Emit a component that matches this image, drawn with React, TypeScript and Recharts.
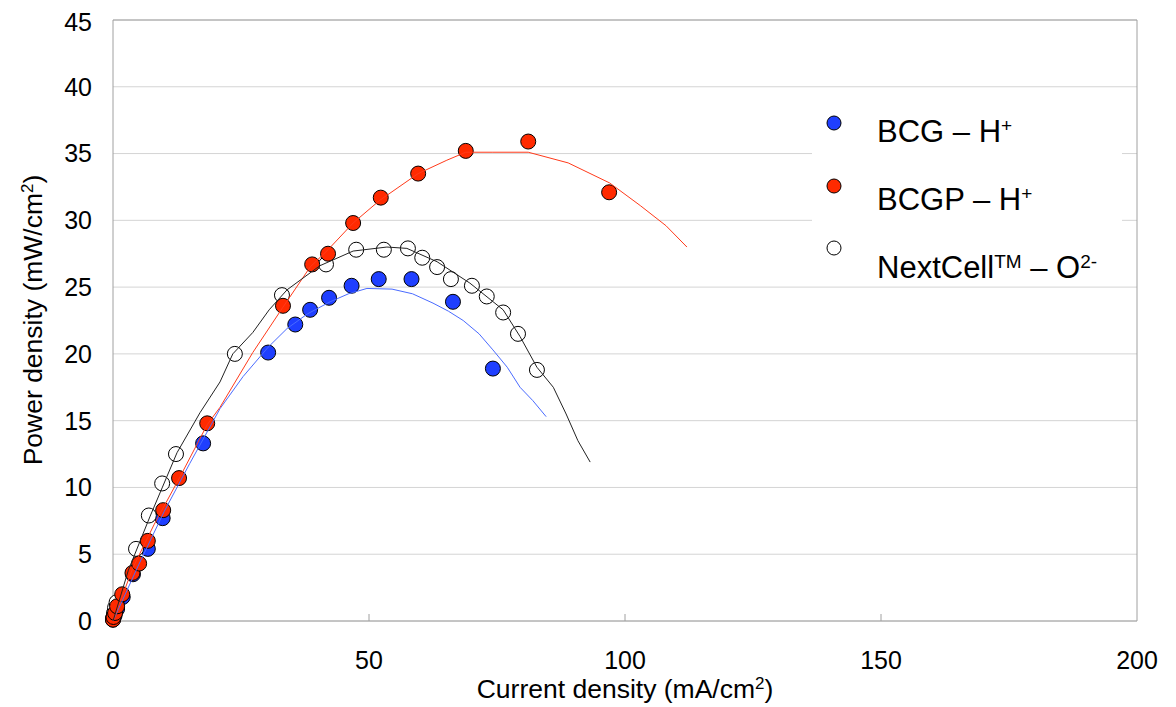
import {
  CartesianGrid,
  Legend,
  ReferenceLine,
  Scatter,
  ScatterChart,
  XAxis,
  YAxis,
} from 'recharts';

// measured points (current density mA/cm2, power density mW/cm2)
const bcgPoints = [
  [0, 0.1], [0.3, 0.4], [0.8, 0.9], [1.9, 1.8], [3.9, 3.5], [6.8, 5.4], [9.7, 7.7],
  [17.6, 13.3], [30.3, 20.1], [35.6, 22.2], [38.5, 23.3], [42.2, 24.2], [46.6, 25.1],
  [51.9, 25.6], [58.3, 25.6], [66.4, 23.9], [74.2, 18.9],
];
const bcgpPoints = [
  [0, 0.1], [0.1, 0.3], [0.4, 0.6], [0.8, 1.1], [1.8, 2.0], [3.8, 3.6], [5.1, 4.3],
  [6.8, 6.0], [9.8, 8.3], [12.9, 10.7], [18.4, 14.8], [33.2, 23.6], [38.9, 26.7],
  [42.0, 27.5], [46.9, 29.8], [52.3, 31.7], [59.6, 33.5], [68.9, 35.2], [81.1, 35.9],
  [96.9, 32.1],
];
const nextCellPoints = [
  [0, 0.2], [0.2, 0.6], [0.4, 1.0], [0.7, 1.4], [4.5, 5.4], [7.0, 7.9], [9.6, 10.3],
  [12.3, 12.5], [23.8, 20.0], [33.0, 24.4], [41.6, 26.7], [47.5, 27.8], [52.9, 27.8],
  [57.6, 27.9], [60.4, 27.2], [63.3, 26.5], [66.0, 25.6], [70.1, 25.1], [73.0, 24.3],
  [76.2, 23.1], [79.1, 21.5], [82.8, 18.8],
];

// fitted curves
const bcgFit = [
  [0, 0], [5, 4.2], [10, 8.2], [15, 11.8], [20.9, 15.9], [25.4, 18.3], [30.3, 20.5],
  [34, 21.9], [38, 23.0], [42.4, 23.9], [46, 24.5], [49.6, 24.9], [54.5, 24.85],
  [58.5, 24.5], [62.5, 23.8], [65.5, 23.2], [68.4, 22.5], [71.5, 21.5], [74.2, 20.3],
  [77, 19.0], [79.5, 17.5], [82, 16.5], [84.6, 15.3],
];
const bcgpFit = [
  [0, 0], [3.9, 4.0], [8, 7.2], [13.1, 10.8], [18.4, 14.7], [20.9, 16.0], [27.3, 20.1],
  [33.2, 23.5], [38.5, 26.5], [42, 27.8], [46.9, 29.8], [52.1, 31.5], [59.6, 33.5],
  [65.2, 34.5], [68.9, 35.1], [74.2, 35.1], [81.1, 35.1], [88.9, 34.3], [97, 32.8],
  [103, 31.1], [108, 29.6], [112.1, 28.0],
];
const nextCellFit = [
  [0, 0], [3, 3.8], [7.2, 7.8], [12.5, 12.6], [17, 15.6], [20.9, 17.9], [23.4, 20.0],
  [27.3, 21.6], [30.5, 23.3], [34, 24.8], [40.4, 26.6], [46.9, 27.7], [53.5, 28.0],
  [57.4, 27.9], [63.3, 26.9], [69.7, 25.3], [76.2, 23.3], [79.5, 21.3], [82.8, 19.0],
  [86, 17.5], [88.5, 15.5], [90.8, 13.5], [93.2, 11.9],
];

const xTicks = [0, 50, 100, 150, 200];
const yTicks = [0, 5, 10, 15, 20, 25, 30, 35, 40, 45];

const FONT = '"Liberation Sans", Arial, sans-serif';
const BLUE = '#1f3fff';
const RED = '#ff2a00';

const toXY = (arr: number[][]) => arr.map(([x, y]) => ({ x, y }));

const dot = (fill: string, r = 7.5) => (props: any) => (
  <circle cx={props.cx} cy={props.cy} r={r} fill={fill} stroke="#000" strokeWidth={1} />
);
const noDot = () => <g />;

function XTick({ x, y, payload }: any) {
  const inner = payload.value > 0 && payload.value < 200;
  return (
    <g>
      {inner && <line x1={x} x2={x} y1={y - 7} y2={y} stroke="#a0a0a0" />}
      <text x={x} y={y + 48} textAnchor="middle" fontSize={25} fontFamily={FONT} fill="#000">
        {payload.value}
      </text>
    </g>
  );
}

function YTitle() {
  return (
    <text
      transform="translate(34,312) rotate(-90)"
      textAnchor="middle"
      fontSize={26.5}
      fontFamily={FONT}
      fill="#000"
    >
      Power density (mW/cm<tspan baselineShift="super" fontSize={17}>2</tspan>)
    </text>
  );
}

function XTitle() {
  return (
    <text x={617} y={690} textAnchor="middle" fontSize={26.5} fontFamily={FONT} fill="#000">
      Current density (mA/cm<tspan baselineShift="super" fontSize={17}>2</tspan>)
    </text>
  );
}

const legendRows = [
  { fill: BLUE, cy: 28, ty: 47, main: 'BCG – H', sup: '+', tail: '', sup2: '' },
  { fill: RED, cy: 91, ty: 115, main: 'BCGP – H', sup: '+', tail: '', sup2: '' },
  { fill: '#fff', cy: 153, ty: 183, main: 'NextCell', sup: 'TM', tail: ' – O', sup2: '2-' },
];

function LegendBox() {
  return (
    <svg width={310} height={190} style={{ display: 'block' }}>
      <rect width={310} height={190} fill="#fff" />
      {legendRows.map((r) => (
        <g key={r.main}>
          <circle cx={22} cy={r.cy} r={7} fill={r.fill} stroke="#000" strokeWidth={1} />
          <text x={65} y={r.ty} fontSize={31} fontFamily={FONT} fill="#000">
            {r.main}
            <tspan baselineShift="super" fontSize={19}>{r.sup}</tspan>
            {r.tail && <tspan baselineShift="baseline">{r.tail}</tspan>}
            {r.sup2 && <tspan baselineShift="super" fontSize={19}>{r.sup2}</tspan>}
          </text>
        </g>
      ))}
    </svg>
  );
}

export default function App() {
  return (
    <ScatterChart width={1168} height={699} margin={{ top: 12, right: 39, bottom: 0, left: 0 }}>
      <CartesianGrid horizontal vertical={false} stroke="#d4d4d4" />
      <XAxis
        type="number"
        dataKey="x"
        domain={[0, 200]}
        ticks={xTicks}
        height={86}
        tickLine={false}
        tickSize={0}
        tickMargin={0}
        tick={<XTick />}
        axisLine={{ stroke: '#a0a0a0' }}
        label={<XTitle />}
      />
      <YAxis
        type="number"
        dataKey="y"
        domain={[0, 45]}
        ticks={yTicks}
        width={105}
        tickLine={false}
        tickSize={0}
        tickMargin={21}
        tick={{ fontSize: 25, fontFamily: FONT, fill: '#000' }}
        axisLine={{ stroke: '#a0a0a0' }}
        label={<YTitle />}
      />
      <ReferenceLine x={200} stroke="#a0a0a0" />
      <ReferenceLine y={45} stroke="#a0a0a0" />
      <Legend
        layout="horizontal"
        verticalAlign="middle"
        align="center"
        wrapperStyle={{ left: 804, top: 87, width: 310, height: 190 }}
        content={() => <LegendBox />}
      />
      <Scatter name="BCG – H+" data={toXY(bcgPoints)} shape={dot(BLUE)} isAnimationActive={false} />
      <Scatter name="NextCell – O2-" data={toXY(nextCellPoints)} shape={dot('#fff')} isAnimationActive={false} />
      <Scatter name="BCGP – H+" data={toXY(bcgpPoints)} shape={dot(RED)} isAnimationActive={false} />
      <Scatter data={toXY(bcgFit)} line={{ stroke: '#4a6bff', strokeWidth: 1 }} shape={noDot} legendType="none" isAnimationActive={false} />
      <Scatter data={toXY(bcgpFit)} line={{ stroke: '#ff3a1a', strokeWidth: 1 }} shape={noDot} legendType="none" isAnimationActive={false} />
      <Scatter data={toXY(nextCellFit)} line={{ stroke: '#222', strokeWidth: 1 }} shape={noDot} legendType="none" isAnimationActive={false} />
    </ScatterChart>
  );
}
